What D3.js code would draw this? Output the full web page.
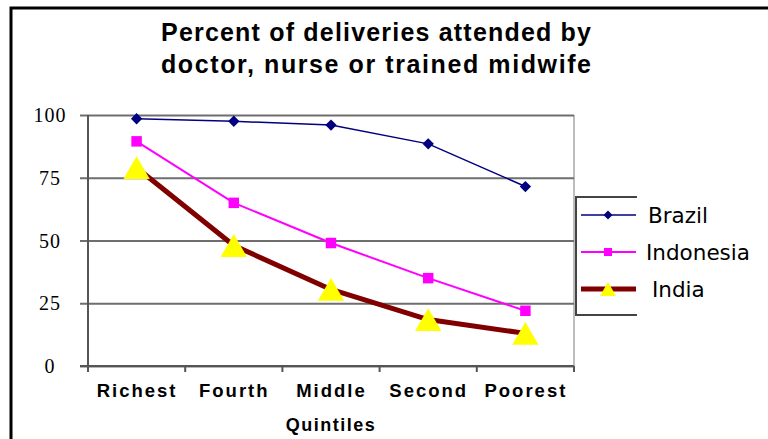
<!DOCTYPE html>
<html>
<head>
<meta charset="utf-8">
<script src="https://cdn.jsdelivr.net/npm/d3@7"></script>
<style>
  body { margin: 0; background: #fff; }
  svg { display: block; }
</style>
</head>
<body>
<svg id="chart" width="768" height="439"></svg>
<script>
// data
const categories = ["Richest", "Fourth", "Middle", "Second", "Poorest"];
const brazil = [98.5, 97.5, 96, 88.5, 71.5];
const indonesia = [89.5, 65, 49, 35, 22];
const india = [79, 48, 30.5, 18.5, 13];
const yTicks = [0, 25, 50, 75, 100];
const titleLines = ["Percent of deliveries attended by", "doctor, nurse or trained midwife"];
const xTitle = "Quintiles";

const svg = d3.select("#chart");
svg.append("rect").attr("width", 768).attr("height", 439).attr("fill", "#fff");

// outer frame (top + left only, rest is cropped)
svg.append("path")
  .attr("d", "M11,439 V8 H768")
  .attr("fill", "none")
  .attr("stroke", "#000")
  .attr("stroke-width", 3);

// plot area
const plotL = 88, plotR = 574, plotT = 115, plotB = 366;

const x = d3.scalePoint().domain(categories).range([plotL, plotR]).padding(0.5);
const xBand = d3.scaleBand().domain(categories).range([plotL, plotR]);
const y = d3.scaleLinear().domain([0, 100]).range([plotB, plotT]);

// right border of plot
svg.append("line")
  .attr("x1", plotR).attr("x2", plotR)
  .attr("y1", plotT).attr("y2", plotB)
  .attr("stroke", "#bdbdbd").attr("stroke-width", 2);

// gridlines (with the small left ticks)
const grid = svg.append("g").attr("transform", "translate(80,0)")
  .call(d3.axisRight(y).tickValues(yTicks).tickSize(plotR - 80).tickFormat(""));
grid.select(".domain").remove();
grid.selectAll(".tick line").attr("stroke", "#6e6e6e").attr("stroke-width", 2);

// y axis line
svg.append("line")
  .attr("x1", plotL).attr("x2", plotL)
  .attr("y1", plotT).attr("y2", plotB + 6)
  .attr("stroke", "#555").attr("stroke-width", 2);

// y labels
svg.append("g").selectAll("text")
  .data(yTicks)
  .enter().append("text")
  .attr("x", 50)
  .attr("y", (d) => y(d))
  .attr("dy", "0.35em")
  .attr("text-anchor", "middle")
  .style("font-family", "'Liberation Serif', 'Times New Roman', serif")
  .style("font-size", "20px")
  .style("letter-spacing", "1px")
  .attr("fill", "#000")
  .text((d) => d);

// x axis line + boundary ticks
svg.append("line")
  .attr("x1", 80).attr("x2", plotR)
  .attr("y1", plotB).attr("y2", plotB)
  .attr("stroke", "#555").attr("stroke-width", 2);
const bounds = categories.map((c) => xBand(c)).concat([plotR]);
svg.append("g").selectAll("line")
  .data(bounds)
  .enter().append("line")
  .attr("x1", (d) => d).attr("x2", (d) => d)
  .attr("y1", plotB).attr("y2", plotB + 6)
  .attr("stroke", "#555").attr("stroke-width", 2);

// x labels
const xAxis = svg.append("g").attr("transform", "translate(0," + plotB + ")")
  .call(d3.axisBottom(x).tickSize(0).tickPadding(0));
xAxis.select(".domain").remove();
xAxis.selectAll("text")
  .attr("y", 31).attr("dy", 0)
  .attr("fill", "#000")
  .style("font-family", "'Liberation Sans', Arial, sans-serif")
  .style("font-weight", "bold")
  .style("font-size", "18.5px")
  .style("letter-spacing", "2px");

svg.append("text")
  .attr("x", (plotL + plotR) / 2)
  .attr("y", 431)
  .attr("text-anchor", "middle")
  .style("font-family", "'Liberation Sans', Arial, sans-serif")
  .style("font-weight", "bold")
  .style("font-size", "18px")
  .style("letter-spacing", "1.5px")
  .text(xTitle);

// title
svg.append("g").selectAll("text")
  .data(titleLines)
  .enter().append("text")
  .attr("x", 376)
  .attr("y", (d, i) => 41 + i * 32)
  .attr("text-anchor", "middle")
  .attr("textLength", 430)
  .attr("lengthAdjust", "spacing")
  .style("font-family", "'Liberation Sans', Arial, sans-serif")
  .style("font-weight", "bold")
  .style("font-size", "25px")
  .text((d) => d);

// series
const series = [
  { name: "Brazil", values: brazil, color: "#000080", width: 1.5, symbol: "diamond", fill: "#000080", size: 64 },
  { name: "Indonesia", values: indonesia, color: "#ff00ff", width: 2, symbol: "square", fill: "#ff00ff", size: 110 },
  { name: "India", values: india, color: "#800000", width: 5, symbol: "triangle", fill: "#ffff00", size: 300 }
];

function symbolPath(kind, size) {
  if (kind === "triangle") return d3.symbol().type(d3.symbolTriangle).size(size)();
  return d3.symbol().type(d3.symbolSquare).size(size)();
}
function symbolTransform(kind, size, cx, cy) {
  if (kind === "diamond") return "translate(" + cx + "," + cy + ") rotate(45)";
  if (kind === "triangle") {
    const h = Math.sqrt(size / (Math.sqrt(3) * 3));
    return "translate(" + cx + "," + (cy + h / 2) + ")";
  }
  return "translate(" + cx + "," + cy + ")";
}

const line = d3.line()
  .x((d, i) => x(categories[i]))
  .y((d) => y(d));

series.forEach((s) => {
  svg.append("path")
    .datum(s.values)
    .attr("d", line)
    .attr("fill", "none")
    .attr("stroke", s.color)
    .attr("stroke-width", s.width)
    .attr("stroke-linejoin", "round");
  svg.append("g").selectAll("path")
    .data(s.values)
    .enter().append("path")
    .attr("d", symbolPath(s.symbol, s.size))
    .attr("transform", (d, i) => symbolTransform(s.symbol, s.size, x(categories[i]), y(d)))
    .attr("fill", s.fill);
});

// legend
const lgX = 576, lgTop = 197, lgBottom = 315, lgRight = 637;
svg.append("path")
  .attr("d", "M" + lgRight + "," + lgTop + " H" + lgX + " V" + lgBottom + " H" + lgRight)
  .attr("fill", "none")
  .attr("stroke", "#444")
  .attr("stroke-width", 2);

const legendY = [215, 252, 289];
const legendTextX = [648, 646, 652];
const legendSize = { diamond: 40, square: 64, triangle: 110 };
series.forEach((s, i) => {
  const ly = legendY[i];
  svg.append("line")
    .attr("x1", 581).attr("x2", 636)
    .attr("y1", ly).attr("y2", ly)
    .attr("stroke", s.color)
    .attr("stroke-width", s.width);
  svg.append("path")
    .attr("d", symbolPath(s.symbol, legendSize[s.symbol]))
    .attr("transform", symbolTransform(s.symbol, legendSize[s.symbol], 608, ly))
    .attr("fill", s.fill);
  svg.append("text")
    .attr("x", legendTextX[i])
    .attr("y", ly)
    .attr("dy", "0.35em")
    .style("font-family", "'DejaVu Sans', Verdana, sans-serif")
    .style("font-size", "21.5px")
    .attr("fill", "#000")
    .text(s.name);
});
</script>
</body>
</html>
